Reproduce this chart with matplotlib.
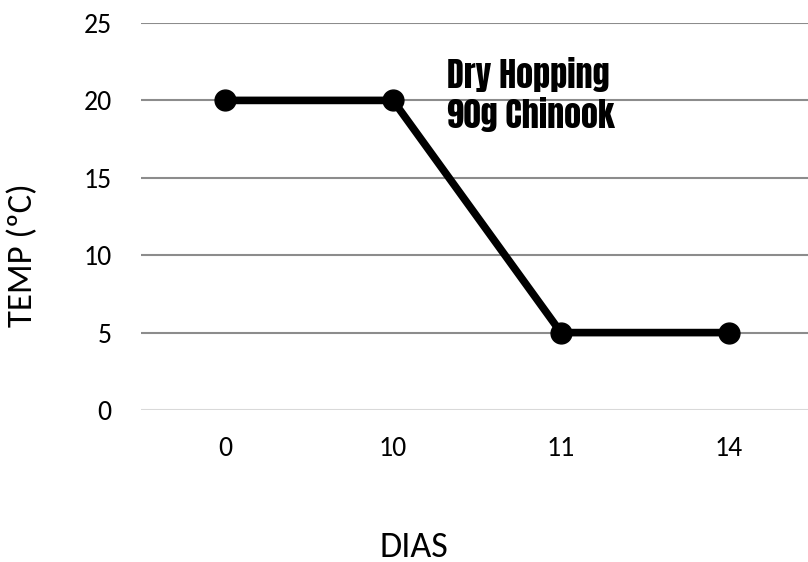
import matplotlib
matplotlib.use("Agg")
import matplotlib.pyplot as plt

days = ["0", "10", "11", "14"]
temps = [20, 20, 5, 5]
yticks = [0, 5, 10, 15, 20, 25]
note_lines = ["Dry Hopping", "90g Chinook"]

BASE = ["Carlito", "Lato", "DejaVu Sans"]
IMPACT = ["Anton", "Oswald", "DejaVu Sans"]

fig = plt.figure(figsize=(8.08, 5.62), dpi=100)
ax = fig.add_axes([141/808, 152/562, 672/808, 387/562])
ax.set_xlim(-0.5, 3.5)
ax.set_ylim(0, 25)
for y in yticks[1:]:
    ax.axhline(y, color="#8c8c8c", lw=1.5, zorder=1)
ax.axhline(0, color="#d9d9d9", lw=1.5, zorder=1)
x = list(range(len(days)))
ax.plot(x, temps, color="black", lw=5.5, marker="o", markersize=15, zorder=3, clip_on=False)
ax.set_xticks(x)
ax.set_xticklabels(days)
ax.set_yticks(yticks)
for s in ax.spines.values():
    s.set_visible(False)
ax.tick_params(length=0, labelsize=20)
ax.tick_params(axis="y", pad=21)
ax.tick_params(axis="x", pad=19)
for lab in ax.get_xticklabels() + ax.get_yticklabels():
    lab.set_family(BASE)
ax.set_ylabel("TEMP (ºC)", fontsize=25, family=BASE)
ax.yaxis.label.set_va("center")
ax.yaxis.set_label_coords(-0.1756, 0.4005)
ax.set_xlabel("DIAS", fontsize=26, family=BASE)
ax.xaxis.label.set_va("center")
ax.xaxis.set_label_coords(0.406, -0.354)
ax.text(1.321, 20.8, note_lines[0], fontsize=24.5, family=IMPACT,
        va="baseline", ha="left", zorder=4)
ax.text(1.321, 18.2, note_lines[1], fontsize=24.5, family=IMPACT,
        va="baseline", ha="left", zorder=4)
fig.savefig("out.png", dpi=100)
